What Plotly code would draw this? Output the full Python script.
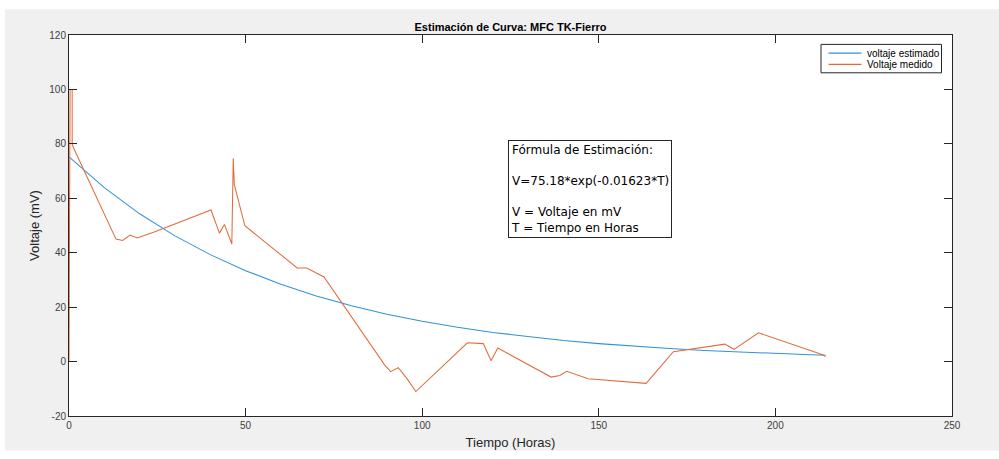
import plotly.graph_objects as go

# Measured voltage (Voltaje medido)
t_med = [0, 0.3, 0.9, 0.9, 1.3, 13.3, 15.2, 17.3, 19.3, 24.3, 40.2, 42.6, 44.0, 46.1, 46.5,
         46.8, 49.8, 64.6, 67.3, 70.1, 72.2, 89.5, 91.1, 93.2, 95.6, 98.2, 112.8, 117.3,
         119.5, 121.4, 136.5, 139.0, 140.9, 147.0, 163.4, 171.1, 185.7, 188.3, 195.2,
         213.6, 214.2]
v_med = [0, 100, 100, 80, 78.5, 45.0, 44.5, 46.5, 45.4, 47.7, 55.7, 47.2, 50.4, 43.2, 74.7,
         65.0, 49.9, 34.4, 34.4, 32.4, 31.1, -1.5, -3.7, -2.2, -6.1, -11.0, 6.9, 6.6,
         0.3, 5.0, -5.7, -5.1, -3.6, -6.3, -8.0, 3.6, 6.4, 4.5, 10.6,
         2.4, 1.8]

# Estimated voltage (voltaje estimado)
t_est = [0, 10, 20, 30, 40, 50, 60, 70, 80, 90, 100, 110, 120, 130, 140, 150, 160, 170,
         180, 190, 200, 210, 214.2]
v_est = [75.2, 63.9, 54.3, 46.2, 39.3, 33.4, 28.4, 24.1, 20.5, 17.4, 14.8, 12.6, 10.7,
         9.1, 7.75, 6.6, 5.6, 4.8, 4.05, 3.44, 2.93, 2.49, 2.32]

x_ticks = [0, 50, 100, 150, 200, 250]
y_ticks = [-20, 0, 20, 40, 60, 80, 100, 120]

series_names = ["voltaje estimado", "Voltaje medido"]
series_colors = ["#2F93D6", "#E06C3C"]

FONT = "Liberation Sans, Arial, Helvetica, sans-serif"
AX = "#262626"

fig = go.Figure()
fig.add_trace(go.Scatter(x=t_est, y=v_est, mode="lines", name=series_names[0],
                         line=dict(color=series_colors[0], width=1.05), showlegend=False))
fig.add_trace(go.Scatter(x=t_med, y=v_med, mode="lines", name=series_names[1],
                         line=dict(color=series_colors[1], width=1.05), showlegend=False))

L, R, T, B = 69, 952, 35, 421
W, H = 999, 459
pw, ph = R - L, B - T

def px(xp):
    return (xp - L) / pw

def py(yp):
    return (B - yp) / ph

shapes = [
    dict(type="rect", xref="paper", yref="paper", x0=px(5), x1=px(1000),
         y0=py(456), y1=py(9), fillcolor="#f0f0f0", line=dict(width=0), layer="below"),
    dict(type="rect", xref="paper", yref="paper", x0=0, x1=1, y0=0, y1=1,
         fillcolor="white", line=dict(width=0), layer="below"),
    # legend box
    dict(type="rect", xref="paper", yref="paper", x0=px(821), x1=px(941.5),
         y0=py(73.3), y1=py(44.5), fillcolor="white", line=dict(color=AX, width=1),
         layer="above"),
]
annotations = [
    dict(xref="paper", yref="paper", x=px(507.5), y=py(141), xanchor="left", yanchor="top",
         text="Fórmula de Estimación:<br><br>V=75.18*exp(-0.01623*T)<br><br>"
              "V = Voltaje en mV<br>T = Tiempo en Horas",
         align="left", showarrow=False, bgcolor="white", bordercolor=AX, borderwidth=1,
         borderpad=2, font=dict(size=12, color="#000000", family="DejaVu Sans, sans-serif")),
]
legend_y = [53.3, 64.7]
for name, color, yy in zip(series_names, series_colors, legend_y):
    shapes.append(dict(type="line", xref="paper", yref="paper", x0=px(828.5), x1=px(861.5),
                       y0=py(yy), y1=py(yy), line=dict(color=color, width=1.2), layer="above"))
    annotations.append(dict(xref="paper", yref="paper", x=px(865), y=py(yy), xanchor="left",
                            yanchor="middle", text=name, showarrow=False,
                            font=dict(size=10, color="#000000", family=FONT)))

fig.update_layout(
    width=W, height=H,
    margin=dict(l=L, r=W - R, t=T, b=H - B, pad=0),
    paper_bgcolor="white",
    plot_bgcolor="white",
    font=dict(family=FONT, color=AX),
    title=dict(text="<b>Estimación de Curva: MFC TK-Fierro</b>", x=px(510.5), xref="paper",
               xanchor="center", y=1 - 27 / H, yref="container", yanchor="middle",
               font=dict(size=11, color="#000000", family=FONT)),
    showlegend=False,
    shapes=shapes,
    annotations=annotations,
)

fig.update_xaxes(range=[0, 250], tickvals=x_ticks, ticktext=[str(v) for v in x_ticks],
                 showgrid=False, zeroline=False, showline=True, linecolor=AX, linewidth=1,
                 mirror="ticks", ticks="inside", ticklen=8, tickcolor=AX,
                 tickfont=dict(size=10, color="#404040"),
                 title=dict(text="Tiempo (Horas)", font=dict(size=13, color="#262626"), standoff=7))
fig.update_yaxes(range=[-20, 120], tickvals=y_ticks, ticktext=[str(v) for v in y_ticks],
                 showgrid=False, zeroline=False, showline=True, linecolor=AX, linewidth=1,
                 mirror="ticks", ticks="inside", ticklen=8, tickcolor=AX,
                 tickfont=dict(size=10, color="#404040"),
                 title=dict(text="Voltaje (mV)", font=dict(size=13, color="#262626"), standoff=6))

fig.write_html("out.html")
